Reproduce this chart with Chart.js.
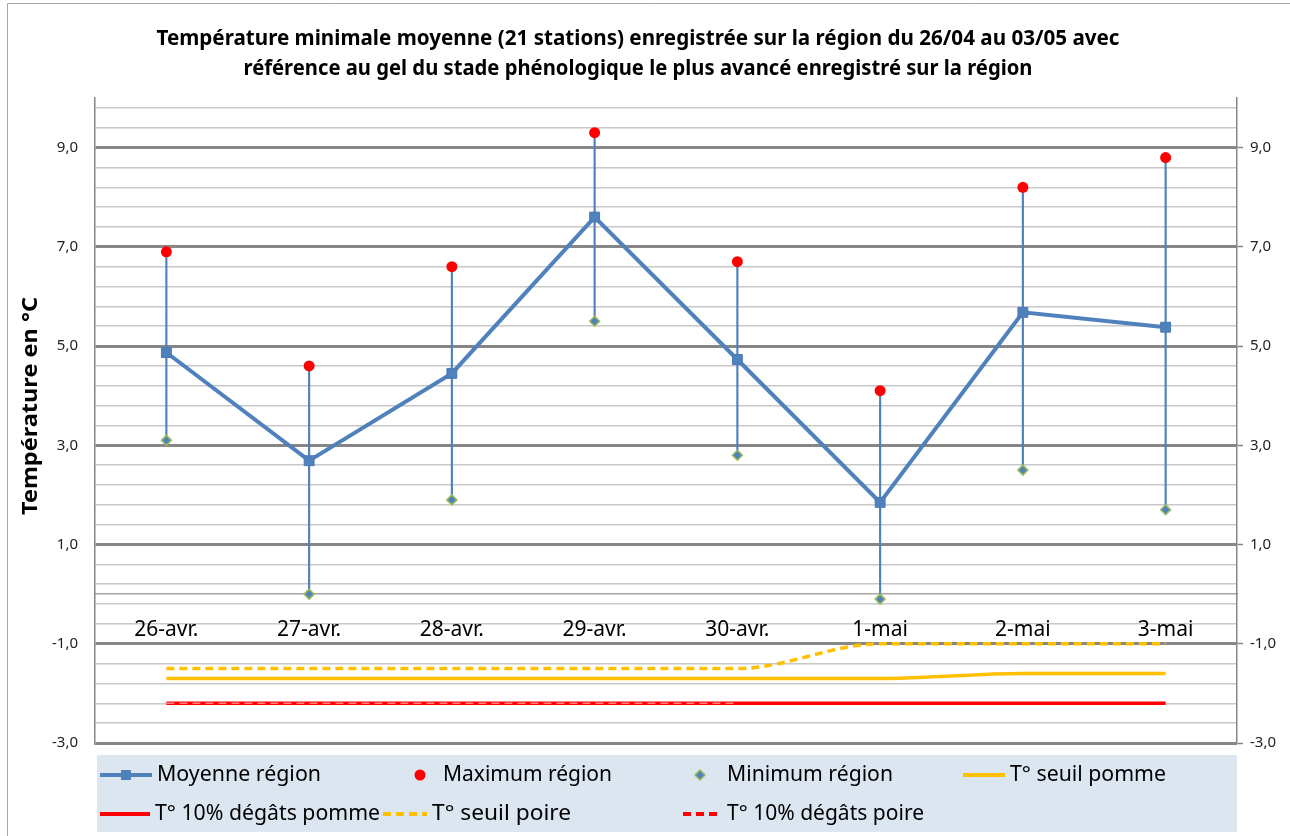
<!DOCTYPE html>
<html><head><meta charset="utf-8">
<script src="https://cdn.jsdelivr.net/npm/chart.js@4"></script>
<style>html,body{margin:0;padding:0;background:#fff}#wrap{width:1290px;height:836px;position:relative}</style>
</head><body><div id="wrap"><canvas id="c" width="1290" height="836"></canvas></div>
<script>
const categories = ['26-avr.','27-avr.','28-avr.','29-avr.','30-avr.','1-mai','2-mai','3-mai'];
const moyenne = [4.87, 2.69, 4.45, 7.6, 4.73, 1.85, 5.68, 5.38];
const maximum = [6.9, 4.6, 6.6, 9.3, 6.7, 4.1, 8.2, 8.8];
const minimum = [3.1, 0.0, 1.9, 5.5, 2.8, -0.1, 2.5, 1.7];
const seuilPomme = [-1.7, -1.7, -1.7, -1.7, -1.7, -1.7, -1.6, -1.6];
const degatsPomme = [-2.2, -2.2, -2.2, -2.2, -2.2, -2.2, -2.2, -2.2];
const seuilPoire = [-1.5, -1.5, -1.5, -1.5, -1.5, -1.0, -1.0, -1.0];
const degatsPoire = [-2.2, -2.2, -2.2, -2.2, -2.2, null, null, null];
const yMajorTicks = [-3, -1, 1, 3, 5, 7, 9];
const yTickLabels = ['-3,0', '-1,0', '1,0', '3,0', '5,0', '7,0', '9,0'];
const yMin = -3, yMax = 10, yMinorStep = 0.4;
const titleLines = ['Température minimale moyenne (21 stations) enregistrée sur la région du 26/04 au 03/05 avec',
                    'référence au gel du stade phénologique le plus avancé enregistré sur la région'];
const yTitle = 'Température en °C';

const highLow = minimum.map((m, i) => [m, maximum[i]]);
const BLUE = '#4f81bd', RED = '#ff0000', ORANGE = '#ffc000', GREEN = '#9bbb59';

function isMajor(v) { return yMajorTicks.some(m => Math.abs(m - v) < 1e-6); }
function buildTicks(scale) {
  const t = [];
  for (let k = 0; yMin + k * yMinorStep <= yMax - 0.1; k++) t.push({value: +(yMin + k * yMinorStep).toFixed(4)});
  t.push({value: yMax});
  scale.ticks = t;
}
function tickLabel(v) { const i = yMajorTicks.findIndex(m => Math.abs(m - v) < 1e-6); return i >= 0 ? yTickLabels[i] : ''; }

function fitText(ctx, text, x, y, font, targetW, align, rot) {
  ctx.save();
  ctx.font = font;
  const w = ctx.measureText(text).width;
  const s = targetW ? targetW / w : 1;
  ctx.translate(x, y);
  if (rot) ctx.rotate(rot);
  ctx.scale(s, 1);
  ctx.textAlign = align; ctx.textBaseline = 'middle';
  ctx.fillText(text, 0, 0);
  ctx.restore();
}

const decor = {
  id: 'decor',
  beforeDraw(chart) {
    const ctx = chart.ctx;
    ctx.save();
    ctx.fillStyle = '#fff'; ctx.fillRect(0, 0, chart.width, chart.height);
    ctx.strokeStyle = '#a6a6a6'; ctx.lineWidth = 1;
    ctx.beginPath(); ctx.moveTo(7.5, chart.height); ctx.lineTo(7.5, 3.5); ctx.lineTo(chart.width, 3.5); ctx.stroke();
    ctx.restore();
  },
  afterDraw(chart) {
    const ctx = chart.ctx;
    ctx.save();
    ctx.fillStyle = '#000';
    fitText(ctx, titleLines[0], 638, 39, 'bold 21px "Noto Sans"', 963, 'center');
    fitText(ctx, titleLines[1], 638, 69, 'bold 21px "Noto Sans"', 789, 'center');
    fitText(ctx, yTitle, 31, 406, 'bold 22px "Noto Sans"', 218, 'center', -Math.PI / 2);
    // legend
    ctx.fillStyle = '#dce6f1';
    ctx.fillRect(97, 755, 1140, 77);
    const r1 = 775, r2 = 814;
    const line = (x0, x1, y, color, w, dash) => {
      ctx.save(); ctx.strokeStyle = color; ctx.lineWidth = w; ctx.setLineDash(dash || []);
      ctx.beginPath(); ctx.moveTo(x0, y); ctx.lineTo(x1, y); ctx.stroke(); ctx.restore();
    };
    line(100, 152, r1, BLUE, 4);
    ctx.fillStyle = BLUE; ctx.fillRect(121, r1 - 5, 10, 10);
    ctx.fillStyle = RED; ctx.beginPath(); ctx.arc(420, r1, 5.5, 0, Math.PI * 2); ctx.fill();
    ctx.fillStyle = BLUE; ctx.strokeStyle = GREEN; ctx.lineWidth = 1.5;
    ctx.beginPath(); ctx.moveTo(700, r1 - 5); ctx.lineTo(705, r1); ctx.lineTo(700, r1 + 5); ctx.lineTo(695, r1); ctx.closePath(); ctx.fill(); ctx.stroke();
    line(963, 1005, r1, ORANGE, 4);
    line(100, 150, r2, RED, 4);
    line(383, 427, r2, ORANGE, 4, [8, 5]);
    line(683, 722, r2, RED, 4, [8, 5]);
    ctx.fillStyle = '#000';
    const lf = '21px "Noto Sans"';
    const items = [
      ['Moyenne région', 157, r1, 164], ['Maximum région', 443, r1, 169], ['Minimum région', 727, r1, 166],
      ['T° seuil pomme', 1010, r1, 156], ['T° 10% dégâts pomme', 155, r2, 225], ['T° seuil poire', 432, r2, 139],
      ['T° 10% dégâts poire', 727, r2, 197]
    ];
    items.forEach(it => fitText(ctx, it[0], it[1], it[2], lf, it[3], 'left'));
    ctx.restore();
  }
};

const majorGrid = c => (c.tick && Math.abs(c.tick.value - yMax) < 1e-6) ? 'rgba(0,0,0,0)' : (c.tick && isMajor(c.tick.value) ? '#868686' : '#c8c8c8');
const majorWidth = c => (c.tick && isMajor(c.tick.value)) ? 3 : 1.5;

new Chart(document.getElementById('c'), {
  data: {
    labels: categories,
    datasets: [
      {type: 'bar', label: 'high-low', data: highLow, backgroundColor: BLUE, barThickness: 1.5, borderWidth: 0, order: 10, yAxisID: 'y'},
      {type: 'line', label: 'T° 10% dégâts pomme', data: degatsPomme, borderColor: RED, borderWidth: 3.5, pointRadius: 0, cubicInterpolationMode: 'monotone', order: 7, yAxisID: 'y'},
      {type: 'line', label: 'T° 10% dégâts poire', data: degatsPoire, borderColor: 'rgba(255,140,140,0.9)', borderWidth: 1.5, borderDash: [8, 5], pointRadius: 0, cubicInterpolationMode: 'monotone', order: 6, yAxisID: 'y'},
      {type: 'line', label: 'T° seuil pomme', data: seuilPomme, borderColor: ORANGE, borderWidth: 3.5, pointRadius: 0, cubicInterpolationMode: 'monotone', order: 5, yAxisID: 'y'},
      {type: 'line', label: 'T° seuil poire', data: seuilPoire, borderColor: ORANGE, borderWidth: 3.5, borderDash: [8, 5], pointRadius: 0, cubicInterpolationMode: 'monotone', order: 5, yAxisID: 'y'},
      {type: 'line', label: 'Moyenne région', data: moyenne, borderColor: BLUE, borderWidth: 4, tension: 0, pointStyle: 'rect', pointRadius: 7, pointBackgroundColor: BLUE, pointBorderColor: '#4a7ab5', pointBorderWidth: 1, order: 3, yAxisID: 'y'},
      {type: 'line', label: 'Minimum région', data: minimum, showLine: false, pointStyle: 'rectRot', pointRadius: 5, pointBackgroundColor: BLUE, pointBorderColor: GREEN, pointBorderWidth: 1.5, order: 2, yAxisID: 'y'},
      {type: 'line', label: 'Maximum région', data: maximum, showLine: false, pointStyle: 'circle', pointRadius: 5.5, pointBackgroundColor: RED, pointBorderWidth: 0, order: 1, yAxisID: 'y'}
    ]
  },
  options: {
    responsive: false,
    animation: false,
    devicePixelRatio: 1,
    layout: {padding: {top: 98, bottom: 93, left: 0, right: 0}},
    plugins: {legend: {display: false}, title: {display: false}, tooltip: {enabled: false}},
    scales: {
      x: {
        type: 'category', offset: true, position: {y: 0},
        grid: {display: false},
        border: {display: true, color: '#a6a6a6', width: 1.5},
        ticks: {color: '#000', font: {family: 'Noto Sans', size: 21}, padding: 15, maxRotation: 0, autoSkip: false}
      },
      y: {
        type: 'linear', position: 'left', min: yMin, max: yMax,
        afterBuildTicks: buildTicks,
        afterFit: s => { s.width = 95; },
        grid: {color: majorGrid, lineWidth: majorWidth, drawTicks: false},
        border: {display: true, color: '#868686', width: 1.5},
        ticks: {callback: tickLabel, autoSkip: false, color: '#222', font: {family: 'Noto Sans', size: 15}, padding: 17}
      },
      y2: {
        type: 'linear', position: 'right', min: yMin, max: yMax,
        afterBuildTicks: buildTicks,
        afterFit: s => { s.width = 53; },
        grid: {drawOnChartArea: false, drawTicks: true, tickLength: 6, tickWidth: 1.5,
               tickColor: c => (c.tick && isMajor(c.tick.value)) ? '#868686' : 'rgba(0,0,0,0)'},
        border: {display: true, color: '#868686', width: 1.5},
        ticks: {callback: tickLabel, autoSkip: false, color: '#222', font: {family: 'Noto Sans', size: 15}, padding: 7}
      }
    }
  },
  plugins: [decor]
});
</script>
</body></html>
